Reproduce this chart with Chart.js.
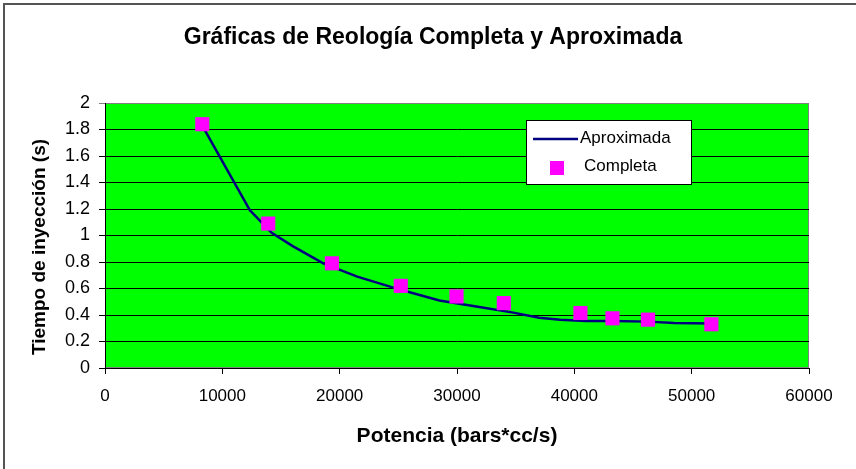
<!DOCTYPE html>
<html>
<head>
<meta charset="utf-8">
<script src="https://cdn.jsdelivr.net/npm/chart.js@4.4.1/dist/chart.umd.min.js"></script>
<style>
  html, body { margin: 0; padding: 0; background: #fff; }
  #wrap { position: relative; width: 856px; height: 469px; }
</style>
</head>
<body>
<div id="wrap"><canvas id="chart" width="856" height="469"></canvas></div>
<script>
// data
const completaX = [8290, 13910, 19340, 25210, 29960, 33990, 40520, 43250, 46280, 51680];
const completaY = [1.84, 1.09, 0.79, 0.62, 0.54, 0.49, 0.415, 0.375, 0.365, 0.33];

const aproxX = [8290, 12350, 14200, 16000, 18600, 21500, 25200, 28500, 31900, 34800, 37000, 38800, 41000, 43200, 46300, 48500, 51700];
const aproxY = [1.83, 1.19, 1.02, 0.92, 0.79, 0.69, 0.59, 0.51, 0.46, 0.418, 0.38, 0.365, 0.355, 0.355, 0.35, 0.34, 0.335];

const xTicks = [0, 10000, 20000, 30000, 40000, 50000, 60000];
const yTicks = [0, 0.2, 0.4, 0.6, 0.8, 1, 1.2, 1.4, 1.6, 1.8, 2];

const titleText = "Gráficas de Reología Completa y Aproximada";
const xTitle = "Potencia (bars*cc/s)";
const yTitle = "Tiempo de inyección (s)";
const seriesNames = ["Aproximada", "Completa"];

const FONT = "'Liberation Sans', Arial, sans-serif";
const LINE_COLOR = "#000080";
const MARK_COLOR = "#ff00ff";

const toPoints = (xs, ys) => xs.map((x, i) => ({ x: x, y: ys[i] }));

// background, outer frame and green plot area
const backdrop = {
  id: "backdrop",
  beforeDraw(chart) {
    const { ctx, chartArea: a } = chart;
    ctx.save();
    ctx.fillStyle = "#fff";
    ctx.fillRect(0, 0, chart.width, chart.height);
    ctx.strokeStyle = "#555";
    ctx.lineWidth = 2;
    ctx.beginPath();
    ctx.moveTo(4, chart.height);
    ctx.lineTo(4, 4);
    ctx.lineTo(chart.width, 4);
    ctx.stroke();
    ctx.fillStyle = "#00ff00";
    ctx.fillRect(a.left, a.top, a.right - a.left, a.bottom - a.top);
    ctx.strokeStyle = "#808080";
    ctx.lineWidth = 1;
    ctx.strokeRect(a.left + 0.5, a.top + 0.5, a.right - a.left - 1, a.bottom - a.top - 1);
    ctx.restore();
  }
};

// chart title centred on the whole page, and the y title a bit below centre like the original
const titles = {
  id: "titles",
  afterDraw(chart) {
    const ctx = chart.ctx;
    ctx.save();
    ctx.fillStyle = "#000";
    ctx.textAlign = "center";
    ctx.textBaseline = "middle";
    ctx.font = "bold 23px " + FONT;
    ctx.fillText(titleText, 433, 38);

    ctx.translate(40, 247);
    ctx.rotate(-Math.PI / 2);
    ctx.font = "bold 19px " + FONT;
    ctx.fillText(yTitle, 0, 0);
    ctx.restore();
  }
};

// legend box inside the plot, like the original
const boxLegend = {
  id: "boxLegend",
  afterDatasetsDraw(chart) {
    const ctx = chart.ctx;
    const bx = 526, by = 120, bw = 165, bh = 64;
    ctx.save();
    ctx.fillStyle = "#fff";
    ctx.fillRect(bx, by, bw, bh);
    ctx.strokeStyle = "#000";
    ctx.lineWidth = 1;
    ctx.strokeRect(bx + 0.5, by + 0.5, bw, bh);

    ctx.strokeStyle = LINE_COLOR;
    ctx.lineWidth = 2.5;
    ctx.beginPath();
    ctx.moveTo(533, 139);
    ctx.lineTo(578, 139);
    ctx.stroke();

    ctx.fillStyle = MARK_COLOR;
    ctx.fillRect(550, 161, 14, 14);

    ctx.fillStyle = "#000";
    ctx.font = "17px " + FONT;
    ctx.textBaseline = "middle";
    ctx.textAlign = "left";
    ctx.fillText(seriesNames[0], 580, 138);
    ctx.fillText(seriesNames[1], 584, 166);
    ctx.restore();
  }
};

const ctx = document.getElementById("chart").getContext("2d");
new Chart(ctx, {
  type: "scatter",
  data: {
    datasets: [
      {
        label: seriesNames[1],
        data: toPoints(completaX, completaY),
        pointStyle: "rect",
        pointRadius: 10,
        pointHoverRadius: 10,
        backgroundColor: MARK_COLOR,
        borderColor: MARK_COLOR,
        borderWidth: 0,
        showLine: false,
        order: 0
      },
      {
        label: seriesNames[0],
        data: toPoints(aproxX, aproxY),
        showLine: true,
        borderColor: LINE_COLOR,
        borderWidth: 2.5,
        pointRadius: 0,
        tension: 0,
        order: 1
      }
    ]
  },
  options: {
    responsive: false,
    animation: false,
    layout: { padding: { left: 0, right: 47, top: 103, bottom: 0 } },
    plugins: {
      legend: { display: false },
      tooltip: { enabled: false },
      title: { display: false }
    },
    scales: {
      x: {
        type: "linear",
        min: xTicks[0],
        max: xTicks[xTicks.length - 1],
        afterBuildTicks: (scale) => { scale.ticks = xTicks.map(v => ({ value: v })); },
        afterFit: (scale) => { scale.height = 101; },
        grid: { drawOnChartArea: false, drawTicks: true, tickLength: 6, color: "#000" },
        border: { display: true, color: "#000", width: 1 },
        ticks: {
          color: "#000",
          padding: 12,
          maxRotation: 0,
          font: { family: FONT, size: 17 },
          callback: (v) => String(v)
        },
        title: {
          display: true,
          text: xTitle,
          color: "#000",
          font: { family: FONT, size: 21, weight: "bold" },
          padding: { top: 0, bottom: 20 }
        }
      },
      y: {
        type: "linear",
        min: yTicks[0],
        max: yTicks[yTicks.length - 1],
        afterBuildTicks: (scale) => { scale.ticks = yTicks.map(v => ({ value: v })); },
        afterFit: (scale) => { scale.width = 105; },
        grid: {
          drawTicks: true,
          tickLength: 6,
          color: (c) => (c.tick && c.tick.value === 2 ? "#808080" : "#000"),
          lineWidth: 1
        },
        border: { display: true, color: "#000", width: 1 },
        ticks: {
          color: "#000",
          padding: 9,
          font: { family: FONT, size: 18 },
          callback: (v) => String(Math.round(v * 10) / 10)
        },
        title: { display: false }
      }
    }
  },
  plugins: [backdrop, titles, boxLegend]
});
</script>
</body>
</html>
